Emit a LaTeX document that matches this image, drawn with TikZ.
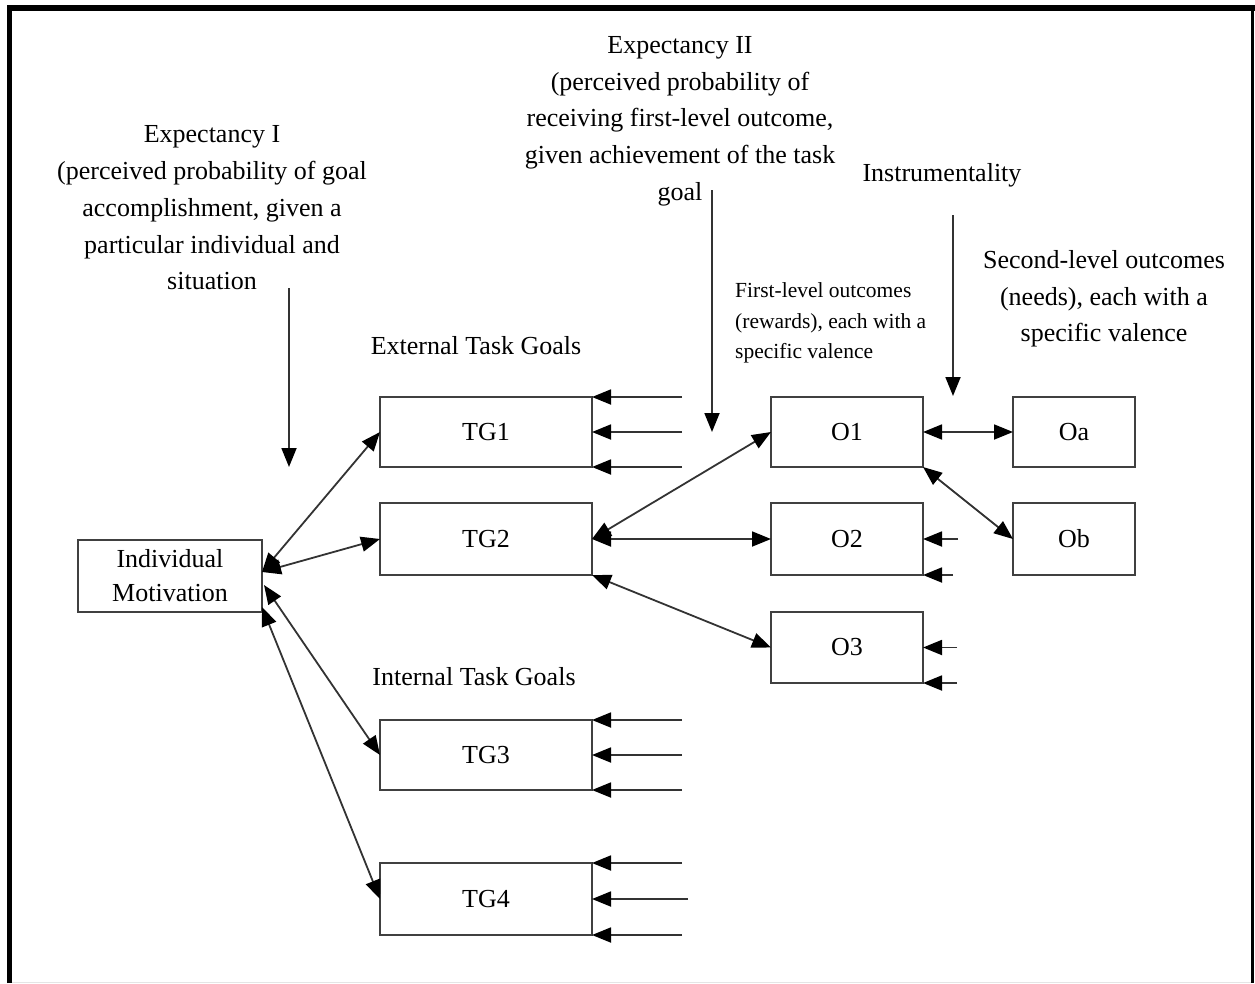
\documentclass[tikz,border=0pt]{standalone}
\usepackage{fontspec}
\setmainfont{Liberation Serif}
\usetikzlibrary{arrows.meta,calc}
\begin{document}
\begin{tikzpicture}[x=1pt,y=-1pt,
  tip/.tip={Triangle[length=19pt,width=15pt,fill=black,color=black]},
  box/.style={draw=black!75, line width=1.8pt, inner sep=0pt, outer sep=0pt, font=\fontsize{26}{34}\selectfont, align=center},
  conn/.style={line width=1.8pt, draw=black!80, -tip},
  biconn/.style={line width=1.8pt, draw=black!80, tip-tip},
  lbl/.style={font=\fontsize{26}{36.7}\selectfont, align=center, inner sep=0pt},
  small/.style={font=\fontsize{21.5}{30.5}\selectfont, align=left, inner sep=0pt}]
\useasboundingbox (0,0) rectangle (1255,983);
% frame
\draw[line width=5pt] (9.5,983) -- (9.5,5);
\draw[line width=6pt] (7,8) -- (1255,8);
\draw[line width=2.5pt] (1252.5,5) -- (1252.5,983);
\draw[line width=0.8pt, black!10] (12,982.5) -- (1251,982.5);

% boxes
\node[box, minimum width=184pt, minimum height=72pt] (im) at (170,576) {Individual\\Motivation};
\node[box, minimum width=212pt, minimum height=70pt] (tg1) at (486,432) {TG1};
\node[box, minimum width=212pt, minimum height=72pt] (tg2) at (486,539) {TG2};
\node[box, minimum width=212pt, minimum height=70pt] (tg3) at (486,755) {TG3};
\node[box, minimum width=212pt, minimum height=72pt] (tg4) at (486,899) {TG4};
\node[box, minimum width=152pt, minimum height=70pt] (o1) at (847,432) {O1};
\node[box, minimum width=152pt, minimum height=72pt] (o2) at (847,539) {O2};
\node[box, minimum width=152pt, minimum height=71pt] (o3) at (847,647.5) {O3};
\node[box, minimum width=122pt, minimum height=70pt] (oa) at (1074,432) {Oa};
\node[box, minimum width=122pt, minimum height=72pt] (ob) at (1074,539) {Ob};

% labels
\node[lbl] (e1) at (212,208) {Expectancy I\\(perceived probability of goal\\accomplishment, given a\\particular individual and\\situation};
\node[lbl] (e2) at (680,121) {Expectancy II\\(perceived probability of\\receiving first-level outcome,\\given achievement of the task\\goal};
\node[lbl] (ins) at (942,175) {Instrumentality};
\node[lbl] (sl) at (1104,299) {Second-level outcomes\\(needs), each with a\\specific valence};
\node[small, anchor=west] (fl) at (735,323) {First-level outcomes\\(rewards), each with a\\specific valence};
\node[lbl] (etg) at (476,346) {External Task Goals};
\node[lbl] (itg) at (474,677) {Internal Task Goals};

% vertical arrows from labels
\coordinate (e1s) at (289,288);
\coordinate (e1e) at (289,467);
\coordinate (e2s) at (712,190);
\coordinate (e2e) at (712,432);
\coordinate (ins1) at (953,215);
\coordinate (ins2) at (953,396);
\draw[conn] (e1s) -- (e1e);
\draw[conn] (e2s) -- (e2e);
\draw[conn] (ins1) -- (ins2);

% motivation links
\draw[biconn] ([yshift=4pt]im.east) -- (tg1.west);
\draw[biconn] ([yshift=4pt]im.east) -- (tg2.west);
\draw[biconn] ([xshift=2pt,yshift=-9pt]im.east) -- (tg3.west);
\draw[biconn] ([yshift=5pt]im.south east) -- (tg4.west);

% outcome links
\draw[biconn] (tg2.east) -- (o1.west);
\draw[biconn] (tg2.east) -- (o2.west);
\draw[biconn] (tg2.south east) -- (o3.west);
\draw[biconn] (o1.east) -- (oa.west);
\draw[biconn] (o1.south east) -- (ob.west);

% input arrows
\coordinate (a11) at (682,397);
\coordinate (a12) at (682,432);
\coordinate (a13) at (682,467);
\draw[conn] (a11) -- (tg1.north east);
\draw[conn] (a12) -- (tg1.east);
\draw[conn] (a13) -- (tg1.south east);
\coordinate (a31) at (682,720);
\coordinate (a32) at (682,755);
\coordinate (a33) at (682,790);
\draw[conn] (a31) -- (tg3.north east);
\draw[conn] (a32) -- (tg3.east);
\draw[conn] (a33) -- (tg3.south east);
\coordinate (a41) at (682,863);
\coordinate (a42) at (688,899);
\coordinate (a43) at (682,935);
\draw[conn] (a41) -- (tg4.north east);
\draw[conn] (a42) -- (tg4.east);
\draw[conn] (a43) -- (tg4.south east);
\coordinate (b21) at (958,539);
\coordinate (b22) at (953,575);
\draw[conn] (b21) -- (o2.east);
\draw[conn] (b22) -- (o2.south east);
\coordinate (b31) at (957,647.5);
\coordinate (b32) at (957,683);
\draw[conn] (b31) -- (o3.east);
\draw[conn] (b32) -- (o3.south east);
\end{tikzpicture}
\end{document}
